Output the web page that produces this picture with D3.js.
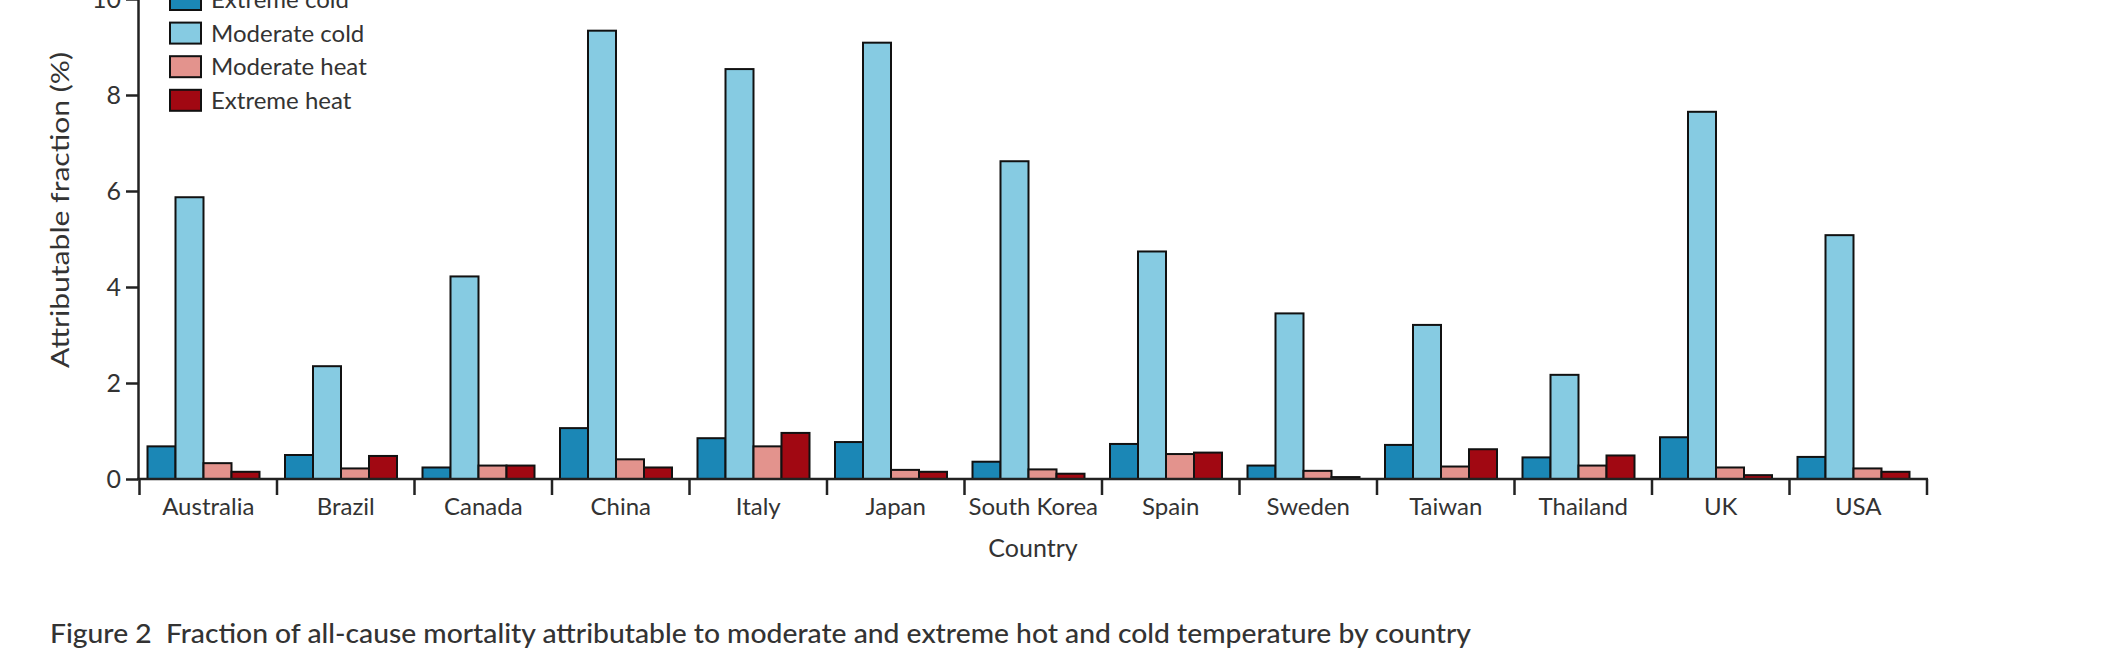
<!DOCTYPE html>
<html>
<head>
<meta charset="utf-8">
<title>Figure 2 - attributable fraction by country</title>
<script src="https://d3js.org/d3.v7.min.js"></script>
<style>
  body { margin: 0; background: #fff; }
  svg text { font-family: Lato, "Open Sans", sans-serif; fill: #333; }
</style>
</head>
<body>
<div id="chart"></div>
<script>

// values (attributable fraction, %)
const countries = ["Australia", "Brazil", "Canada", "China", "Italy", "Japan", "South Korea",
                   "Spain", "Sweden", "Taiwan", "Thailand", "UK", "USA"];
const seriesNames = ["Extreme cold", "Moderate cold", "Moderate heat", "Extreme heat"];
const seriesColors = ["#1b87b6", "#86cbe2", "#e3938d", "#a10812"];

const extremeCold  = [0.68, 0.50, 0.24, 1.06, 0.85, 0.77, 0.36, 0.73, 0.28, 0.71, 0.45, 0.87, 0.46];
const moderateCold = [5.87, 2.35, 4.22, 9.34, 8.54, 9.09, 6.62, 4.74, 3.45, 3.21, 2.17, 7.65, 5.08];
const moderateHeat = [0.33, 0.22, 0.28, 0.41, 0.68, 0.19, 0.20, 0.52, 0.17, 0.26, 0.28, 0.24, 0.22];
const extremeHeat  = [0.15, 0.48, 0.28, 0.24, 0.96, 0.15, 0.11, 0.55, 0.04, 0.62, 0.49, 0.08, 0.15];
const yTicks = [0, 2, 4, 6, 8, 10];

const seriesValues = [extremeCold, moderateCold, moderateHeat, extremeHeat];

const width = 2104;
const height = 666;

const svg = d3.select("#chart")
    .append("svg")
    .attr("width", width)
    .attr("height", height);

// scales
const xScale = d3.scaleBand()
    .domain(countries)
    .range([139.5, 1927])
    .paddingInner(0)
    .paddingOuter(0);

const xInner = d3.scaleBand()
    .domain(seriesNames)
    .range([8, 120]);

const yScale = d3.scaleLinear()
    .domain([0, 10])
    .range([479, -1]);

// bars, one group per country
const rows = countries.map((c, i) => ({
    country: c,
    values: seriesNames.map((s, j) => ({ key: s, value: seriesValues[j][i], color: seriesColors[j] }))
}));

svg.append("g").selectAll("g")
    .data(rows)
    .join("g")
    .attr("transform", d => `translate(${xScale(d.country)},0)`)
    .selectAll("rect")
    .data(d => d.values)
    .join("rect")
    .attr("x", d => xInner(d.key))
    .attr("width", xInner.bandwidth())
    .attr("y", d => yScale(d.value))
    .attr("height", d => yScale(0) - yScale(d.value))
    .attr("fill", d => d.color)
    .attr("stroke", "#111")
    .attr("stroke-width", 2);

// y axis
const yAxis = svg.append("g")
    .attr("transform", "translate(138,0)")
    .call(d3.axisLeft(yScale).tickValues(yTicks).tickSize(12).tickSizeOuter(0).tickPadding(5));
yAxis.select(".domain").attr("stroke", "#222").attr("stroke-width", 2.5);
yAxis.selectAll(".tick line").attr("stroke", "#222").attr("stroke-width", 2.5);
yAxis.selectAll(".tick text").style("font-size", "25px").attr("fill", "#333");

// x axis: labels centered, tick marks at the band edges
const xAxis = svg.append("g")
    .attr("transform", `translate(0,${yScale(0)})`)
    .call(d3.axisBottom(xScale).tickSize(0).tickPadding(19));
xAxis.select(".domain").remove();
xAxis.selectAll(".tick text").style("font-size", "24px").attr("fill", "#333");

svg.append("line")
    .attr("x1", 137).attr("x2", xScale.range()[1] + 1)
    .attr("y1", yScale(0)).attr("y2", yScale(0))
    .attr("stroke", "#222").attr("stroke-width", 2.5);

const edges = countries.map(c => xScale(c)).concat([xScale.range()[1]]);
svg.append("g").selectAll("line")
    .data(edges)
    .join("line")
    .attr("x1", d => d).attr("x2", d => d)
    .attr("y1", yScale(0)).attr("y2", yScale(0) + 16)
    .attr("stroke", "#222").attr("stroke-width", 2.5);

// axis titles
svg.append("text")
    .attr("transform", "translate(69,210) rotate(-90)")
    .attr("text-anchor", "middle")
    .attr("textLength", 316)
    .attr("lengthAdjust", "spacingAndGlyphs")
    .style("font-size", "25px")
    .text("Attributable fraction (%)");

svg.append("text")
    .attr("x", 1033)
    .attr("y", 557)
    .attr("text-anchor", "middle")
    .style("font-size", "25px")
    .text("Country");

// legend
const legend = svg.append("g")
    .attr("transform", "translate(170,-11)")
    .selectAll("g")
    .data(seriesNames)
    .join("g")
    .attr("transform", (d, i) => `translate(0,${i * 33.6})`);

legend.append("rect")
    .attr("width", 31)
    .attr("height", 21)
    .attr("fill", (d, i) => seriesColors[i])
    .attr("stroke", "#111")
    .attr("stroke-width", 2);

legend.append("text")
    .attr("x", 41)
    .attr("y", 19)
    .style("font-size", "24px")
    .text(d => d);

// caption (keep the double space after the figure number)
svg.append("text")
    .attr("x", 50)
    .attr("y", 643)
    .attr("textLength", 1421)
    .attr("lengthAdjust", "spacingAndGlyphs")
    .style("white-space", "pre")
    .style("font-size", "26px")
    .style("font-weight", "500")
    .attr("fill", "#333")
    .text("Figure 2  Fraction of all-cause mortality attributable to moderate and extreme hot and cold temperature by country");

</script>
</body>
</html>
